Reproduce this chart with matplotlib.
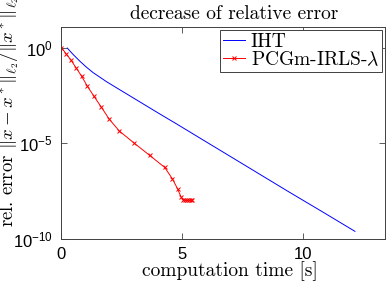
import matplotlib
matplotlib.use("Agg")
import matplotlib.pyplot as plt
from matplotlib.ticker import NullLocator

# tick labels in a Helvetica-like font, everything else in Computer Modern
plt.rcParams['font.family'] = 'Liberation Sans'
plt.rcParams['mathtext.fontset'] = 'custom'
plt.rcParams['mathtext.rm'] = 'Liberation Sans'
plt.rcParams['axes.unicode_minus'] = True

# IHT
iht_time = [0.26, 0.4, 0.55, 0.78, 1.05, 1.33, 1.88, 2.36, 2.7, 3.39, 4.07,
            4.76, 5.44, 6.13, 6.68, 8.05, 9.42, 10.79, 12.13]
iht_err = [0.955, 0.603, 0.380, 0.195, 0.0955, 0.0490, 0.0166, 7.08e-3,
           3.89e-3, 1.15e-3, 3.47e-4, 1.05e-4, 3.16e-5, 9.33e-6, 3.55e-6,
           3.16e-7, 2.82e-8, 2.63e-9, 2.51e-10]

# PCGm-IRLS-lambda
pcg_time = [0.02, 0.21, 0.41, 0.62, 0.85, 1.08, 1.36, 1.66, 1.98, 2.4, 3.03,
            3.66, 4.28, 4.6, 4.81, 4.95, 5.05, 5.12, 5.2, 5.28, 5.35, 5.42]
pcg_err = [1.0, 0.479, 0.224, 0.0891, 0.0324, 0.01, 2.88e-3, 7.94e-4,
           1.91e-4, 4.47e-5, 1.0e-5, 2.34e-6, 5.5e-7, 1.38e-7, 4.17e-8,
           1.62e-8, 1.1e-8, 1.08e-8, 1.07e-8, 1.07e-8, 1.07e-8, 1.07e-8]

xticks = [0, 5, 10]
yticks = [1e-10, 1e-5, 1e0]

fig = plt.figure(figsize=(3.9, 2.81), dpi=100)
ax = fig.add_axes([61/390, 42/281, 324/390, 212/281])

ax.plot(iht_time, iht_err, color='#0000ff', lw=0.7, label='IHT')
ax.plot(pcg_time, pcg_err, color='#ff0000', lw=0.7, marker='x',
        markersize=3, markeredgewidth=0.7, label=r'PCGm-IRLS-$\lambda$')

ax.set_yscale('log')
ax.set_xlim(0, 13.37)
ax.set_ylim(1e-10, 12)
ax.set_xticks(xticks)
ax.set_yticks(yticks)
ax.yaxis.set_minor_locator(NullLocator())
ax.tick_params(direction='in', top=True, right=True, length=4, width=0.6,
               color='#404040', labelsize=12, pad=6)
for s in ax.spines.values():
    s.set_linewidth(0.7)
    s.set_color('#404040')

cm = dict(fontfamily='cmr10', math_fontfamily='cm')
ax.set_title('decrease of relative error', fontsize=14, pad=6, x=0.534, **cm)
ax.set_xlabel('computation time [s]', fontsize=14, **cm)
ax.xaxis.set_label_coords(0.522, -0.105)
# the label runs past the top edge in the reference as well
fig.text(9/390, 54/281,
         r'rel. error $\|x - x^*\|_{\ell_2}/\|x^*\|_{\ell_2}$',
         rotation=90, ha='center', va='bottom', fontsize=13.5, **cm)

leg = ax.legend(loc='upper right', fontsize=14, handlelength=1.1,
                handletextpad=0.3, labelspacing=0.0, borderpad=0.15,
                borderaxespad=0.15, fancybox=False, framealpha=1,
                edgecolor='#404040', numpoints=1)
leg.get_frame().set_linewidth(0.7)
for t in leg.get_texts():
    t.set_fontfamily('cmr10')
    t.set_math_fontfamily('cm')

fig.savefig('out.png', dpi=100)
